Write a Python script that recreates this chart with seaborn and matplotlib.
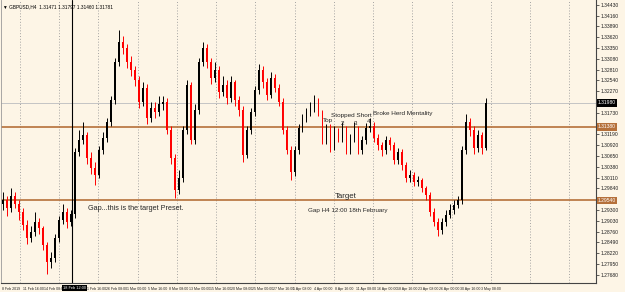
import numpy as np
import matplotlib
matplotlib.use("Agg")
import matplotlib.pyplot as plt
import matplotlib.transforms as mtransforms
import seaborn as sns

# GBPUSD H4 candles
close = [1.2955, 1.2935, 1.2965, 1.2945, 1.2925, 1.2893, 1.2860, 1.2875, 1.2900, 1.2885,
         1.2843, 1.2800, 1.2810, 1.2860, 1.2905, 1.2925, 1.2900, 1.2920, 1.3075, 1.3105,
         1.3118, 1.3060, 1.3035, 1.3018, 1.3080, 1.3110, 1.3150, 1.3205, 1.3300, 1.3350,
         1.3335, 1.3300, 1.3280, 1.3255, 1.3200, 1.3235, 1.3160, 1.3185, 1.3175, 1.3195,
         1.3200, 1.3130, 1.3060, 1.2980, 1.3010, 1.3130, 1.3243, 1.3105, 1.3180, 1.3300,
         1.3335, 1.3300, 1.3260, 1.3280, 1.3225, 1.3243, 1.3210, 1.3250, 1.3205, 1.3180,
         1.3068, 1.3130, 1.3175, 1.3230, 1.3280, 1.3250, 1.3218, 1.3260, 1.3235, 1.3200,
         1.3130, 1.3080, 1.3025, 1.3080, 1.3135, 1.3160, 1.3175, 1.3185, 1.3205, 1.3175,
         1.3105, 1.3135, 1.3085, 1.3125, 1.3110, 1.3135, 1.3080, 1.3110, 1.3135, 1.3080,
         1.3105, 1.3135, 1.3140, 1.3110, 1.3093, 1.3080, 1.3105, 1.3093, 1.3055, 1.3075,
         1.3043, 1.3010, 1.3018, 1.3000, 1.3005, 1.2985, 1.2968, 1.2925, 1.2900, 1.2880,
         1.2900, 1.2918, 1.2930, 1.2943, 1.2955, 1.3080, 1.3150, 1.3130, 1.3085, 1.3118,
         1.3085, 1.3198]

high = [1.2975, 1.2965, 1.2985, 1.2975, 1.2955, 1.2935, 1.2905, 1.2890, 1.2925, 1.2910,
        1.2890, 1.2850, 1.2825, 1.2870, 1.2915, 1.2945, 1.2935, 1.2930, 1.3085, 1.3130,
        1.3150, 1.3125, 1.3075, 1.3050, 1.3090, 1.3125, 1.3160, 1.3215, 1.3310, 1.3380,
        1.3365, 1.3345, 1.3315, 1.3290, 1.3265, 1.3250, 1.3245, 1.3200, 1.3200, 1.3215,
        1.3215, 1.3210, 1.3140, 1.3070, 1.3030, 1.3140, 1.3255, 1.3250, 1.3195, 1.3310,
        1.3350, 1.3345, 1.3310, 1.3300, 1.3290, 1.3265, 1.3255, 1.3265, 1.3255, 1.3215,
        1.3190, 1.3140, 1.3185, 1.3240, 1.3295, 1.3290, 1.3260, 1.3275, 1.3270, 1.3245,
        1.3210, 1.3140, 1.3090, 1.3090, 1.3145, 1.3170, 1.3185, 1.3200, 1.3218, 1.3210,
        1.3180, 1.3145, 1.3145, 1.3140, 1.3135, 1.3150, 1.3140, 1.3120, 1.3150, 1.3140,
        1.3115, 1.3148, 1.3160, 1.3150, 1.3120, 1.3100, 1.3115, 1.3112, 1.3100, 1.3085,
        1.3082, 1.3050, 1.3030, 1.3025, 1.3015, 1.3010, 1.2990, 1.2975, 1.2935, 1.2910,
        1.2910, 1.2930, 1.2945, 1.2955, 1.2965, 1.3090, 1.3170, 1.3160, 1.3140, 1.3130,
        1.3125, 1.3210]

low = [1.2930, 1.2915, 1.2925, 1.2935, 1.2905, 1.2880, 1.2845, 1.2850, 1.2865, 1.2870,
       1.2830, 1.2770, 1.2785, 1.2800, 1.2850, 1.2895, 1.2885, 1.2890, 1.2910, 1.3065,
       1.3095, 1.3045, 1.3020, 1.2993, 1.3010, 1.3070, 1.3100, 1.3140, 1.3195, 1.3290,
       1.3320, 1.3285, 1.3265, 1.3240, 1.3185, 1.3190, 1.3145, 1.3150, 1.3160, 1.3165,
       1.3180, 1.3120, 1.3045, 1.2960, 1.2970, 1.3000, 1.3120, 1.3095, 1.3095, 1.3170,
       1.3290, 1.3285, 1.3245, 1.3250, 1.3210, 1.3215, 1.3195, 1.3200, 1.3190, 1.3165,
       1.3050, 1.3060, 1.3120, 1.3165, 1.3220, 1.3235, 1.3205, 1.3210, 1.3225, 1.3190,
       1.3120, 1.3070, 1.3005, 1.3015, 1.3070, 1.3125, 1.3150, 1.3165, 1.3175, 1.3165,
       1.3095, 1.3095, 1.3075, 1.3080, 1.3100, 1.3100, 1.3070, 1.3070, 1.3100, 1.3070,
       1.3070, 1.3095, 1.3125, 1.3100, 1.3080, 1.3065, 1.3070, 1.3080, 1.3045, 1.3045,
       1.3030, 1.3000, 1.3000, 1.2990, 1.2990, 1.2975, 1.2955, 1.2915, 1.2890, 1.2865,
       1.2870, 1.2890, 1.2910, 1.2920, 1.2935, 1.2945, 1.3070, 1.3115, 1.3070, 1.3075,
       1.3070, 1.3080]

first_open = 1.2945

date_labels = ["8 Feb 2019", "11 Feb 16:00", "14 Feb 08:00", "19 Feb 00:00", "21 Feb 16:00",
               "26 Feb 08:00", "1 Mar 00:00", "5 Mar 16:00", "8 Mar 08:00", "13 Mar 00:00",
               "15 Mar 16:00", "20 Mar 08:00", "25 Mar 00:00", "27 Mar 16:00", "1 Apr 08:00",
               "4 Apr 00:00", "8 Apr 16:00", "11 Apr 08:00", "16 Apr 00:00", "18 Apr 16:00",
               "23 Apr 08:00", "26 Apr 00:00", "30 Apr 16:00", "3 May 08:00"]
gap_label = "18 Feb 12:00"
gap_bar = 18

price_top = 1.3443
price_step = 0.0027
n_price_ticks = 26

level_top = 1.3138      # upper orange line
level_target = 1.2954   # target line

sns.set_theme(style="white")
plt.rcParams['font.family'] = ['Liberation Sans', 'DejaVu Sans']

bg = "#fdf5e6"
orange = "#b5703a"

opens = [first_open] + close[:-1]
x = np.arange(len(close))
up = np.array(close) >= np.array(opens)
colors = np.where(up, "black", "#ff0000")
body_lo = np.minimum(opens, close)
body_h = np.maximum(np.abs(np.array(close) - np.array(opens)), 0.00008)

fig = plt.figure(figsize=(6.25, 2.92), dpi=100)
fig.patch.set_facecolor(bg)
ax = fig.add_axes([0.0016, 0.031, 0.952, 0.969])
ax.set_facecolor(bg)

n_slots = 149
ax.set_xlim(-0.5, n_slots - 0.5)
ax.set_ylim(1.3455 - 283 * 0.00025, 1.3455)

# vertical dotted grid
grid_x = np.arange(15) * 39.3 / 4 + 19 / 4 - 0.5
for gx in grid_x:
    ax.axvline(gx, color="#9a9a9a", lw=0.6, ls=(0, (1.2, 2.2)), zorder=0)

# horizontal lines
ax.axhline(close[-1], color="#c4c4c4", lw=0.7, zorder=1)
ax.axhline(level_top, color=orange, lw=1.2, zorder=1)
ax.axhline(level_target, color=orange, lw=1.2, zorder=1)
ax.axvline(gap_bar - 0.75, color="black", lw=0.8, zorder=1)

# candles
ax.vlines(x, low, high, colors=colors, lw=0.7, zorder=3)
ax.bar(x, body_h, bottom=body_lo, width=0.45, color=colors, linewidth=0, zorder=3)

# axes style
ax.spines["top"].set_visible(False)
ax.spines["left"].set_color("#9a9a9a")
ax.spines["left"].set_linewidth(0.6)
ax.spines["right"].set_color("#444444")
ax.spines["right"].set_linewidth(0.8)
ax.spines["bottom"].set_color("#444444")
ax.spines["bottom"].set_linewidth(0.8)

boxed = [(close[-1], "black"), (level_top, orange), (level_target, orange)]

yt = price_top - np.arange(n_price_ticks) * price_step
ax.yaxis.tick_right()
ax.set_yticks(yt)
ylabels = []
for v in yt:
    near = any(abs(v - b) < 0.0018 for b, _ in boxed)
    ylabels.append("" if near else f"{v:.5f}")
ax.set_yticklabels(ylabels, fontsize=3.6)
ax.tick_params(axis="y", length=2, width=0.5, pad=1, colors="#222222")

xt = (1 + np.arange(len(date_labels)) * 20.85) / 4 - 0.5
ax.set_xticks(xt)
xl = list(date_labels)
xl[3] = ""
ax.set_xticklabels(xl, fontsize=2.6, ha="left")
ax.tick_params(axis="x", length=2, width=0.5, pad=1, colors="#222222")

# price boxes on right axis
tr = mtransforms.blended_transform_factory(ax.transAxes, ax.transData)
for val, fc in boxed:
    ax.text(1.003, val, f"{val:.5f}", transform=tr, fontsize=3.6, color="white",
            va="center", ha="left", clip_on=False, zorder=6,
            bbox=dict(boxstyle="square,pad=0.25", fc=fc, ec="none"))

# date box for the gap bar
trx = mtransforms.blended_transform_factory(ax.transData, ax.transAxes)
ax.text(17.8, -0.012, gap_label, transform=trx, fontsize=2.8, color="white",
        va="top", ha="center", clip_on=False, zorder=6,
        bbox=dict(boxstyle="square,pad=0.25", fc="black", ec="none"))

# header
ax.text(0.004, 0.985, "\u25bc GBPUSD,H4  1.31471 1.31797 1.31460 1.31781", transform=ax.transAxes,
        fontsize=3.4, color="black", va="top", ha="left")

# annotations
ax.text(21.25, 1.29325, "Gap...this is the target Preset.", fontsize=5.2, va="center", ha="left")
ax.text(83.0, 1.29625, "Target", fontsize=5.6, va="center", ha="left")
ax.text(76.5, 1.29275, "Gap H4 12:00 18th February", fontsize=4.5, va="center", ha="left")
ax.text(80.0, 1.31525, "Top", fontsize=4.6, va="center", ha="left")
ax.text(82.25, 1.3165, "Stopped Short", fontsize=4.6, va="center", ha="left")
ax.text(92.75, 1.3170, "Broke Herd Mentality", fontsize=4.6, va="center", ha="left")
ax.text(85.0, 1.3145, "2", fontsize=4.6, va="center", ha="center")
ax.text(88.25, 1.3145, "3", fontsize=4.6, va="center", ha="center")
ax.text(91.5, 1.3150, "4", fontsize=4.6, va="center", ha="center")

fig.savefig("out.png", dpi=100, facecolor=bg)
